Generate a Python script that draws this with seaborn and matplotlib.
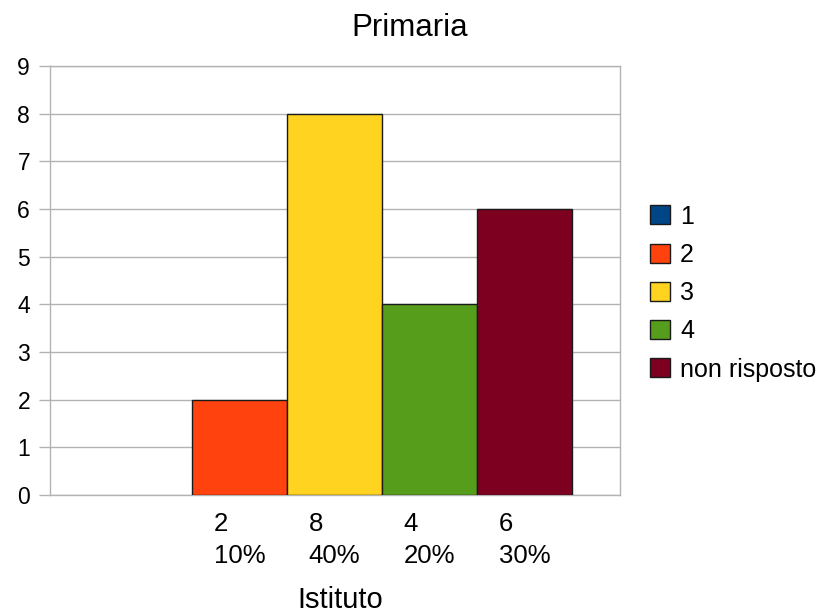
import matplotlib
matplotlib.use("Agg")
import matplotlib.pyplot as plt
from matplotlib.patches import Patch
import seaborn as sns
import pandas as pd

categories = ["1", "2", "3", "4", "non risposto"]
counts = [0, 2, 8, 4, 6]
percent_labels = ["", "10%", "40%", "20%", "30%"]
colors = ["#004586", "#ff420e", "#ffd320", "#579d1c", "#7e0021"]
title = "Primaria"
xlabel = "Istituto"

sns.set_theme(style="white")
plt.rcParams["font.family"] = ["Liberation Sans", "DejaVu Sans"]

df = pd.DataFrame({"cat": categories, "n": counts})

fig = plt.figure(figsize=(8.27, 6.13), dpi=100)
W, H = 827, 613
ax = fig.add_axes([49.5 / W, 1 - 495 / H, 570 / W, 429 / H])

sns.barplot(data=df, x="cat", y="n", hue="cat", palette=colors, dodge=False,
            saturation=1, width=1.0, legend=False, edgecolor="#1a1a1a",
            linewidth=1.0, ax=ax, zorder=3)
for p in ax.patches:
    if p.get_height() == 0:
        p.set_linewidth(0)

ax.set_xlim(-1, 5)
ax.set_ylim(0, 9)
ax.set_yticks(range(0, 10))
ax.grid(axis="y", color="#b3b3b3", linewidth=1.0, zorder=0)
ax.set_axisbelow(True)
for s in ax.spines.values():
    s.set_color("#b3b3b3")
    s.set_linewidth(1.0)

tick_texts = [f"{c}\n{p}" if p else "" for c, p in zip(counts, percent_labels)]
ax.set_xticks(range(len(categories)))
ax.set_xticklabels(tick_texts, fontsize=18.5, linespacing=1.45, color="black")
for t in ax.get_xticklabels():
    t.set_multialignment("left")
ax.tick_params(axis="x", which="major", length=0, pad=12)
ax.set_xticks([-1, 5], minor=True)
ax.tick_params(axis="x", which="minor", length=8, width=1, color="#b3b3b3", direction="out")
ax.tick_params(axis="y", which="major", length=8, width=1, color="#b3b3b3",
               labelsize=16.5, pad=6, labelcolor="black", left=True)

ax.set_ylabel("")
ax.set_xlabel(xlabel, fontsize=21, color="black")
ax.xaxis.set_label_coords(0.51, -0.212)
ax.xaxis.label.set_va("top")

fig.text(0.495, 1 - 36 / H, title, fontsize=22.5, ha="center", va="baseline", color="black")

handles = [Patch(facecolor=c, edgecolor="#1a1a1a", linewidth=1.0) for c in colors]
ax.legend(handles, categories, loc="center left", bbox_to_anchor=(650 / W, 1 - 293 / H),
          bbox_transform=fig.transFigure, frameon=False, fontsize=18, labelcolor="black",
          handlelength=0.8, handleheight=0.8, handletextpad=0.4, labelspacing=0.57,
          borderpad=0, borderaxespad=0)

fig.savefig("out.png", dpi=100)
